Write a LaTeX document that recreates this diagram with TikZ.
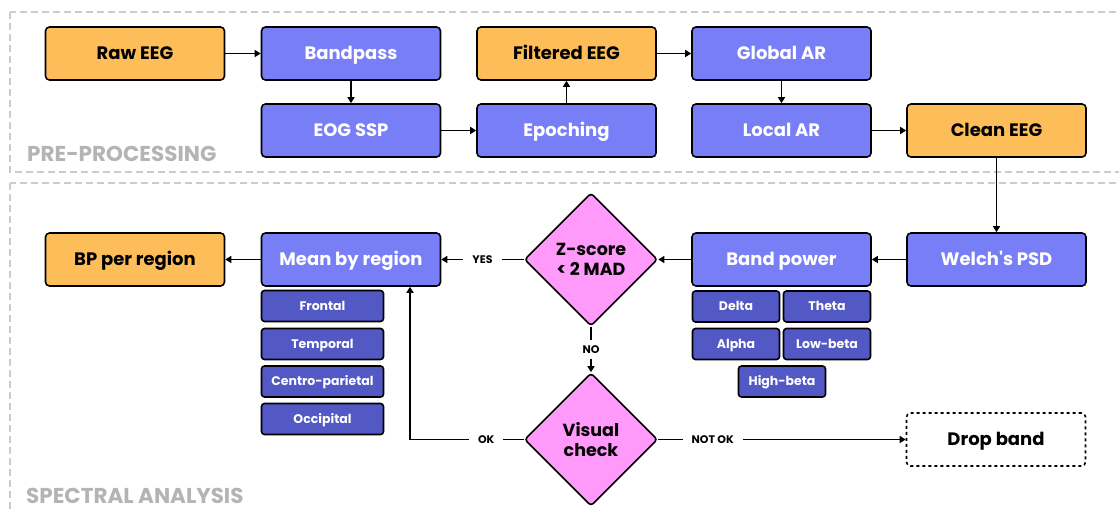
\documentclass[tikz,border=0pt]{standalone}
\usepackage{fontspec}
\setmainfont{Poppins}
\usetikzlibrary{shapes.geometric,arrows.meta}
\definecolor{orng}{RGB}{253,189,89}
\definecolor{purp}{RGB}{120,126,245}
\definecolor{dpurp}{RGB}{82,88,196}
\definecolor{pinkd}{RGB}{255,153,250}
\definecolor{frame}{RGB}{204,204,204}
\definecolor{sect}{RGB}{180,180,180}
\tikzset{
  x=1pt,y=-1pt,
  base/.style={draw=black,line width=1.6pt,rounded corners=4pt,minimum width=179pt,minimum height=53pt,inner sep=0pt,text height=12.6pt,text depth=0pt,font=\bfseries\fontsize{18}{21}\selectfont},
  obox/.style={base,fill=orng,text=black},
  pbox/.style={base,fill=purp,text=white},
  sbox/.style={draw=black,line width=1.6pt,rounded corners=3pt,fill=dpurp,text=white,minimum height=31pt,inner sep=0pt,text height=8.8pt,text depth=0pt,font=\bfseries\fontsize{12.5}{14}\selectfont},
  dbox/.style={draw=black,line width=1.6pt,rounded corners=3pt,fill=pinkd,diamond,aspect=1,minimum width=133pt,minimum height=133pt,inner sep=0pt,align=center,font=\bfseries\fontsize{17.5}{20}\selectfont},
  arr/.style={line width=1.6pt,-{Triangle[length=6pt,width=7pt]}},
  lbl/.style={fill=white,inner xsep=9pt,inner ysep=2pt,font=\bfseries\fontsize{11}{12}\selectfont},
  sectlbl/.style={anchor=base west,text=sect,inner sep=0pt,font=\bfseries\fontsize{21.5}{24}\selectfont},
  framebox/.style={draw=frame,line width=1.4pt,dash pattern=on 7pt off 4pt}
}
\begin{document}
\begin{tikzpicture}
\useasboundingbox (0,0) rectangle (1119,511);
\fill[white] (0,0) rectangle (1119,511);
\begin{scope}
\clip (0,0) rectangle (1119,511);
\draw[framebox] (10,12) rectangle (1140,172);
\draw[framebox] (10,183) rectangle (1140,530);
\end{scope}
\node[sectlbl] (s1) at (27,161) {PRE-PROCESSING};
\node[sectlbl] (s2) at (26,503) {SPECTRAL ANALYSIS};

\node[obox] (raw) at (135,53.5) {Raw EEG};
\node[pbox] (bp) at (351,53.5) {Bandpass};
\node[pbox] (eog) at (351,130.5) {EOG SSP};
\node[pbox] (epo) at (566.5,130.5) {Epoching};
\node[obox] (filt) at (566.5,53.5) {Filtered EEG};
\node[pbox] (gar) at (781.5,53.5) {Global AR};
\node[pbox] (lar) at (781.5,130.5) {Local AR};
\node[obox] (clean) at (996.5,130.5) {Clean EEG};
\node[pbox] (welch) at (996.5,259.5) {Welch\textquotesingle s PSD};
\node[pbox] (band) at (781.5,259.5) {Band power};
\node[dbox] (z) at (591,259.5) {Z-score\\< 2 MAD};
\node[pbox] (mean) at (351,259.5) {Mean by region};
\node[obox] (bpr) at (135,259.5) {BP per region};
\node[dbox] (vis) at (591,439.5) {Visual\\check};
\node[base,dashed,fill=white,text=black] (drop) at (996,439.5) {Drop band};

\node[sbox,minimum width=122pt] (fr) at (322.5,306) {Frontal};
\node[sbox,minimum width=122pt] (te) at (322.5,344) {Temporal};
\node[sbox,minimum width=122pt] (cp) at (322.5,381.5) {Centro-parietal};
\node[sbox,minimum width=122pt] (oc) at (322.5,419) {Occipital};

\node[sbox,minimum width=87pt] (de) at (736,306.5) {Delta};
\node[sbox,minimum width=87pt] (th) at (827,306.5) {Theta};
\node[sbox,minimum width=87pt] (al) at (736,344) {Alpha};
\node[sbox,minimum width=87pt] (lb) at (827,344) {Low-beta};
\node[sbox,minimum width=87pt] (hb) at (782,381.5) {High-beta};

\draw[arr] (raw) -- (bp);
\draw[arr] (bp) -- (eog);
\draw[arr] (eog) -- (epo);
\draw[arr] (epo) -- (filt);
\draw[arr] (filt) -- (gar);
\draw[arr] (gar) -- (lar);
\draw[arr] (lar) -- (clean);
\draw[arr] (clean) -- (welch);
\draw[arr] (welch) -- (band);
\draw[arr] (band) -- (z);
\draw[arr] (z) -- node[lbl] {YES} (mean);
\draw[arr] (mean) -- (bpr);
\draw[arr] (z) -- node[lbl,inner xsep=2pt,inner ysep=6pt] {NO} (vis);
\coordinate (okc) at (410,439.5);
\draw[line width=1.6pt] (vis.west) -- node[lbl,pos=0.33] {OK} (okc);
\draw[arr] (okc) -- (okc |- mean.south);
\draw[arr] (vis) -- node[lbl,pos=0.22] {NOT OK} (drop);
\end{tikzpicture}
\end{document}
